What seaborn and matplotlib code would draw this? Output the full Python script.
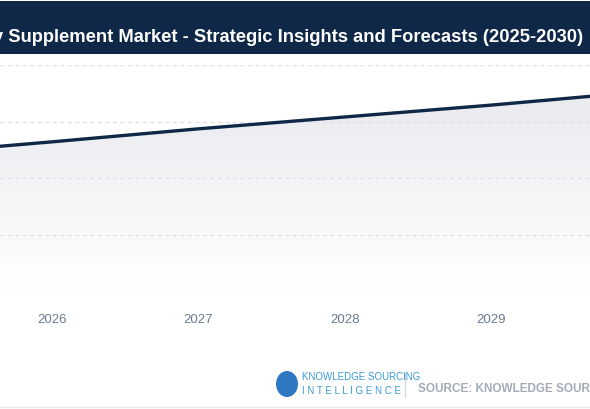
import numpy as np
import pandas as pd
import matplotlib.pyplot as plt
import seaborn as sns
from matplotlib.patches import Polygon, Ellipse

years = [2025, 2026, 2027, 2028, 2029, 2030]
market_size = [2.42, 2.64, 2.87, 3.08, 3.29, 3.52]
tick_years = [2026, 2027, 2028, 2029]
title = "Dietary Supplement Market - Strategic Insights and Forecasts (2025-2030)"

sns.set_style("white")
plt.rcParams['font.family'] = ['Liberation Sans', 'DejaVu Sans']

W, H = 590, 410
fig = plt.figure(figsize=(W / 100, H / 100), dpi=100)

# title bar
bar = fig.add_axes([0, 1 - 55 / H, 1, 53 / H])
bar.set_facecolor('#0f2847')
bar.set_xticks([]); bar.set_yticks([])
for s in bar.spines.values():
    s.set_visible(False)
fig.text(583 / W, 1 - 38 / H, title, ha='right', va='center', color='white',
         fontsize=13.2, fontweight='bold')

# main chart
ax = fig.add_axes([0, 1 - 292 / H, 1, 226 / H])
df = pd.DataFrame({'year': years, 'value': market_size})
x0 = 2026 - 52 / 146.33
x1 = 2029 + 99 / 146.33
ax.set_xlim(x0, x1)
ax.set_ylim(0, 4)

# gradient fill under the line (light grey near the line, fading to white)
grad = np.linspace(1.0, 0.0, 256).reshape(-1, 1)
cmap = sns.blend_palette(['#ffffff', '#e9eaee'], as_cmap=True)
img = ax.imshow(grad, extent=[x0, x1, 0, 3.6], aspect='auto', origin='upper',
                cmap=cmap, vmin=0, vmax=1, zorder=1)
poly = Polygon(list(zip(years, market_size)) + [(years[-1], 0), (years[0], 0)],
               closed=True, transform=ax.transData, facecolor='none', edgecolor='none')
ax.add_patch(poly)
img.set_clip_path(poly)

for g in range(5):
    ax.axhline(g, color='#dcdfe5', linestyle=(0, (3, 3)), linewidth=0.9, zorder=2)

sns.lineplot(data=df, x='year', y='value', ax=ax, color='#0f2847', linewidth=2.4, zorder=3)
ax.set_xticks(tick_years)
ax.set_xticklabels([str(y) for y in tick_years], color='#6b7a90', fontsize=9.5)
ax.tick_params(axis='x', length=0, pad=16)
ax.set_yticks([])
ax.set_xlabel(''); ax.set_ylabel('')
for s in ax.spines.values():
    s.set_visible(False)
ax.set_facecolor('none')

# footer / logo
fig.patches.append(Ellipse((287 / W, 1 - 385 / H), 22 / W, 26 / H, transform=fig.transFigure,
                           facecolor='#2f79c4', edgecolor='none'))
fig.text(302 / W, 1 - 377 / H, "KNOWLEDGE SOURCING", color='#3a9ad9', fontsize=7, va='center')
fig.text(302 / W, 1 - 391 / H, "I N T E L L I G E N C E", color='#3a9ad9', fontsize=7, va='center')
fig.add_artist(plt.Line2D([405 / W, 405 / W], [1 - 374 / H, 1 - 398 / H],
                          color='#d5d8dd', linewidth=1, transform=fig.transFigure))
fig.text(418 / W, 1 - 389 / H, "SOURCE: KNOWLEDGE SOURCING INTELLIGENCE", color='#a3abb8',
         fontsize=8.5, fontweight='bold', va='center')
fig.add_artist(plt.Line2D([0, 1], [1 - 408 / H, 1 - 408 / H], color='#e6e8eb',
                          linewidth=1, transform=fig.transFigure))

fig.savefig('out.png', dpi=100, facecolor='white')
